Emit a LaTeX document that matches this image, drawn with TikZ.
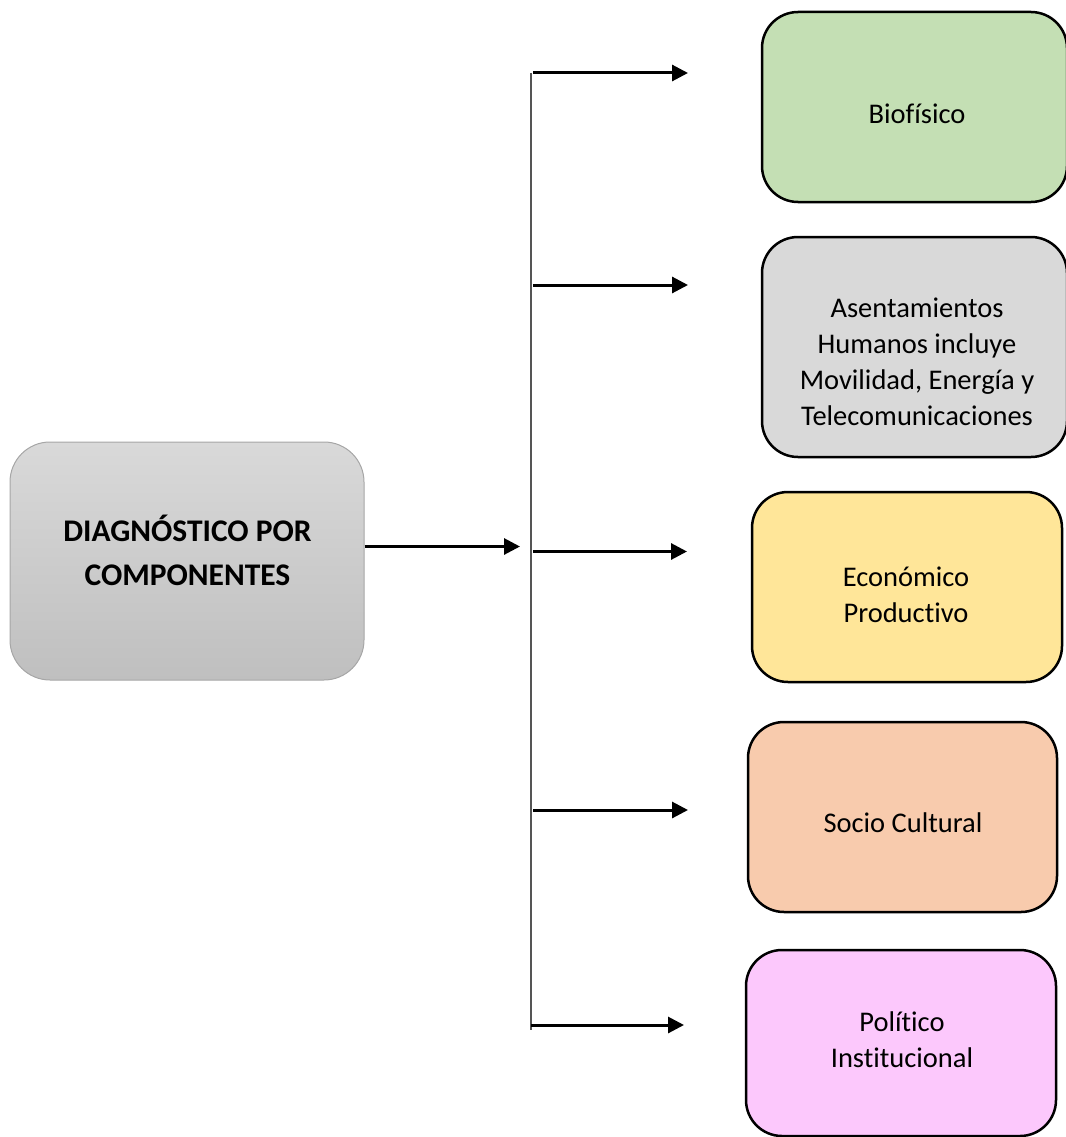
\documentclass[tikz,border=0pt]{standalone}
\usepackage{fontspec}
\setmainfont{Carlito}[Ligatures=CommonOff]
\usetikzlibrary{arrows.meta}
\definecolor{cgreen}{HTML}{C4DFB4}
\definecolor{cgray}{HTML}{D9D9D9}
\definecolor{cyellow}{HTML}{FFE699}
\definecolor{cpeach}{HTML}{F8CBAD}
\definecolor{cpink}{HTML}{FCC8FC}
\definecolor{mtop}{HTML}{D9D9D9}
\definecolor{mbot}{HTML}{BFBFBF}
\definecolor{mborder}{HTML}{A6A6A6}
\definecolor{vline}{HTML}{555555}
\tikzset{
  compbox/.style={draw=black, line width=2.5pt, rounded corners=36pt, inner sep=0pt},
  comptext/.style={align=center, font=\fontsize{28.5}{36}\selectfont, inner sep=0pt},
  branch/.style={line width=3pt, -{Triangle[length=16pt,width=16pt]}},
  trunk/.style={line width=1.6pt, draw=vline},
}
\begin{document}
\begin{tikzpicture}[x=1pt,y=-1pt]
\useasboundingbox (0,0) rectangle (1065,1137);
% main box
\node[rounded corners=40pt, draw=mborder, line width=1pt, top color=mtop, bottom color=mbot,
      minimum width=354pt, minimum height=238pt, inner sep=0pt] (main) at (187,561) {};
\node[align=center, font=\fontsize{31.5}{44}\selectfont\bfseries, inner sep=0pt] (maintext) at (187.5,550) {DIAGNÓSTICO POR\\COMPONENTES};
% component boxes
\node[compbox, fill=cgreen, minimum width=305pt, minimum height=190pt] (b1) at (914.5,107) {};
\node[compbox, fill=cgray, minimum width=305pt, minimum height=220pt] (b2) at (914.5,347) {};
\node[compbox, fill=cyellow, minimum width=310pt, minimum height=190pt] (b3) at (907,587) {};
\node[compbox, fill=cpeach, minimum width=309pt, minimum height=190pt] (b4) at (902.5,817) {};
\node[compbox, fill=cpink, minimum width=310pt, minimum height=186pt] (b5) at (901,1043) {};
\node[comptext] (t1) at (917,114) {Biofísico};
\node[comptext] (t2) at (917,362) {Asentamientos\\Humanos incluye\\Movilidad, Energía y\\Telecomunicaciones};
\node[comptext] (t3) at (906,595) {Económico\\Productivo};
\node[comptext] (t4) at (903,823) {Socio Cultural};
\node[comptext] (t5) at (902,1040) {Político\\Institucional};
% connectors
\coordinate (top) at (531,73);
\coordinate (bot) at (531,1030);
\coordinate (hub) at (520,546.5);
\coordinate (s1) at (533,73);   \coordinate (e1) at (688,73);
\coordinate (s2) at (533,285);  \coordinate (e2) at (688,285);
\coordinate (s3) at (533,551.5);\coordinate (e3) at (687,551.5);
\coordinate (s4) at (533,810);  \coordinate (e4) at (688,810);
\coordinate (s5) at (531,1025); \coordinate (e5) at (684,1025);
\draw[trunk] (top) -- (bot);
\draw[branch] (main.east |- hub) -- (hub);
\draw[branch] (s1) -- (e1);
\draw[branch] (s2) -- (e2);
\draw[branch] (s3) -- (e3);
\draw[branch] (s4) -- (e4);
\draw[branch] (s5) -- (e5);
\end{tikzpicture}
\end{document}
